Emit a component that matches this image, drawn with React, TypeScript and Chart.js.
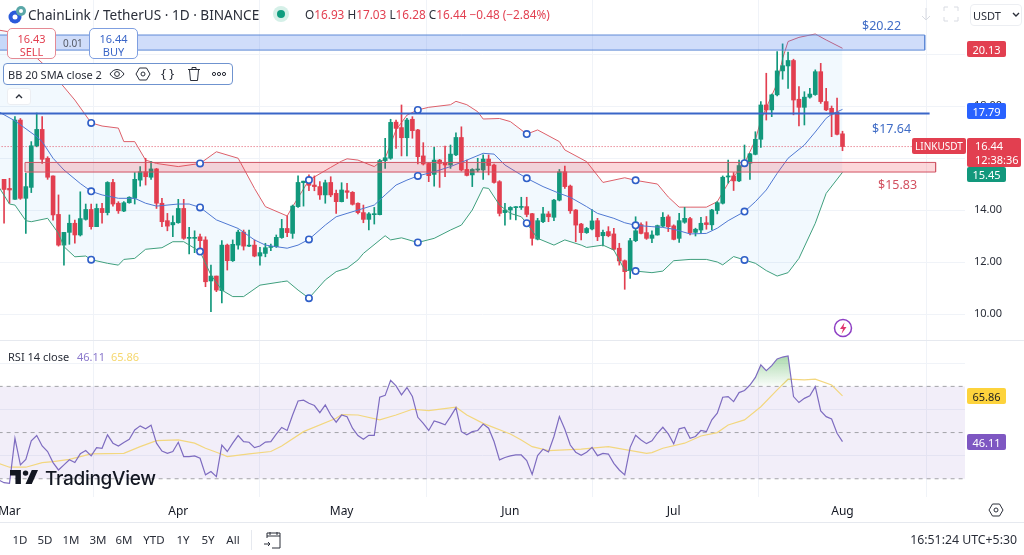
import React, { useEffect, useRef } from "react";
import { Chart, registerables } from "chart.js";

Chart.register(...registerables);

const FONT = '"Noto Sans", sans-serif';
const UP = "#12987c";
const DOWN = "#e23f50";

const firstCandleDay = -1;
const opens = [15.18,14.83,14.41,17.46,14.45,14.87,16.47,17.10,15.99,15.31,13.83,12.65,13.14,13.49,13.04,13.64,14.02,13.36,14.06,13.90,15.06,14.26,13.96,14.28,14.45,15.15,15.47,15.26,15.58,14.26,13.59,13.43,13.51,14.06,12.91,12.91,12.97,12.85,11.27,11.46,10.90,12.65,12.05,12.65,13.15,12.61,12.65,12.23,12.33,12.56,12.59,12.94,13.29,13.10,14.13,15.05,15.05,14.96,14.90,14.58,15.06,14.64,14.32,14.74,14.68,14.26,13.90,13.64,13.82,13.82,15.90,15.99,17.38,17.17,16.78,17.49,17.08,16.08,15.79,15.37,15.92,15.83,15.73,16.12,16.79,15.56,15.35,15.54,15.54,15.96,15.73,15.09,13.90,14.00,14.09,14.10,14.13,13.86,12.88,13.55,13.85,13.72,14.38,15.47,14.92,14.00,13.46,13.13,13.27,13.59,13.01,13.17,13.08,12.53,12.05,11.67,12.82,13.44,13.13,12.91,13.04,13.38,13.74,13.39,12.91,13.53,13.67,13.14,13.23,13.51,13.43,13.98,14.26,15.27,15.31,15.12,15.69,15.80,16.14,16.72,18.04,17.85,18.43,19.35,19.54,19.75,18.26,17.95,18.34,18.44,19.32,18.17,17.91,17.76,16.93];
const closes = [14.79,14.77,17.46,14.45,14.90,16.47,17.10,15.95,15.26,13.81,12.65,13.14,13.49,13.04,13.67,14.02,13.36,14.06,13.90,15.06,14.23,13.97,14.28,14.49,15.18,15.47,15.28,15.58,14.26,13.55,13.38,13.52,14.06,12.91,12.94,12.94,12.82,11.24,11.46,10.92,12.65,12.05,12.68,13.15,12.61,12.64,12.23,12.36,12.55,12.59,12.95,13.29,13.13,14.15,15.06,15.11,14.95,14.90,14.58,15.05,14.58,14.32,14.77,14.68,14.22,13.90,13.64,13.85,13.85,15.90,16.01,17.37,17.14,16.78,17.46,17.05,16.05,15.77,15.32,15.92,15.79,15.73,16.15,16.79,15.54,15.33,15.56,15.56,15.96,15.71,15.06,13.87,14.00,14.10,14.10,14.13,13.83,12.91,13.59,13.85,13.74,14.38,15.47,14.90,13.97,13.42,13.13,13.29,13.58,12.97,13.14,13.01,12.49,12.04,11.63,12.82,13.20,13.10,12.91,13.04,13.40,13.72,13.36,12.87,13.59,13.68,13.13,13.26,13.49,13.44,14.00,14.28,15.26,15.31,15.12,15.71,15.77,16.16,16.72,18.04,17.85,18.43,19.35,19.55,19.75,18.23,17.95,18.34,18.46,19.32,18.17,17.85,17.69,16.91,16.44];
const highs = [15.18,15.22,17.59,17.52,15.41,16.63,17.73,17.59,16.05,15.31,14.58,13.14,13.81,13.61,14.70,14.23,14.23,14.23,14.26,15.09,15.18,14.32,14.32,14.51,15.44,15.67,15.99,15.86,15.60,14.45,13.87,13.78,14.41,14.41,13.33,13.20,13.07,12.97,11.88,11.46,12.82,12.69,12.85,13.23,13.23,13.23,12.85,12.56,12.72,12.69,13.04,13.64,13.77,14.19,15.31,15.11,15.35,15.31,15.09,15.15,15.28,14.77,15.05,15.03,14.71,14.28,14.19,13.90,14.10,15.95,16.76,17.49,17.46,18.04,17.53,17.59,17.10,16.59,15.82,16.41,15.95,16.46,16.50,16.97,17.20,15.92,15.59,15.99,16.12,16.12,15.77,15.13,14.26,14.13,14.13,14.49,14.49,13.87,13.68,14.10,13.94,14.41,15.56,15.69,14.96,14.02,13.49,13.33,14.02,13.68,13.23,13.36,13.30,12.72,12.08,12.91,13.74,13.51,13.55,13.20,13.42,13.90,13.81,13.43,13.87,14.10,13.72,13.30,13.72,13.75,14.03,14.32,15.31,15.92,15.44,15.92,16.50,16.18,17.01,18.17,19.26,18.46,20.09,20.39,20.07,19.80,18.75,18.55,18.68,19.39,19.64,18.68,18.00,18.30,17.03];
const lows = [13.49,14.26,14.41,14.41,13.10,14.67,16.43,15.79,15.18,13.61,12.61,11.88,12.68,12.72,13.00,13.61,13.26,13.36,13.49,13.81,14.15,13.87,13.94,14.26,14.23,14.92,14.96,15.18,14.06,13.36,13.20,12.97,13.49,12.87,12.31,12.36,12.40,11.05,10.09,10.86,10.43,11.69,12.02,12.49,12.46,12.59,12.20,11.88,12.20,12.44,12.56,12.91,12.97,12.91,14.10,14.15,14.74,14.74,14.41,14.26,14.51,13.87,14.31,14.45,14.19,13.85,13.51,13.23,13.46,13.81,15.60,15.95,16.37,16.08,16.08,16.76,15.77,15.73,15.09,14.92,14.87,15.28,15.60,16.09,15.50,15.31,14.90,15.47,15.18,15.35,15.03,13.77,13.42,13.64,13.62,14.02,13.74,12.65,12.85,13.51,13.55,13.59,14.35,14.83,13.87,12.78,12.85,13.10,13.23,12.82,12.62,12.97,12.46,11.88,10.95,11.37,12.78,13.08,12.87,12.74,13.03,13.36,13.17,12.85,12.75,13.49,13.04,13.00,13.10,13.26,13.23,13.85,14.23,15.03,14.75,15.09,15.67,15.18,16.12,16.41,17.46,17.59,18.39,19.03,18.68,17.66,17.23,17.27,18.30,18.41,18.10,17.82,16.82,16.89,16.28];

const upperDays = [-2,0,2,5,7,10,12,15,17,20,21,23,25,27,31,35,38,42,45,47,51,52,55,59,61,62,64,67,69,71,73,75,77,81,82,84,86,87,90,92,95,97,101,102,106,109,113,115,119,121,123,125,128,130,132,135,137,138,141,142,143,145,148,150,153];
const upperValues = [20.92,20.85,20.62,19.85,19.46,18.73,18.23,17.35,17.23,17.15,16.63,16.63,15.92,15.79,15.67,15.79,16.24,15.99,14.83,14.13,13.77,14.13,15.15,15.64,15.88,15.97,15.92,15.67,15.99,17.08,17.65,17.85,17.95,18.05,18.18,18.05,17.78,17.50,17.52,17.40,16.92,17.08,16.63,16.31,15.86,15.06,15.24,15.14,15.00,14.50,14.11,14.11,14.11,14.32,15.03,15.80,16.69,17.46,18.87,19.83,20.48,20.64,20.77,20.54,20.22];
const basisDays = [-2,1,5,6,8,10,13,15,17,20,23,25,27,31,33,35,38,42,45,47,49,51,53,55,58,60,62,65,67,69,71,73,75,78,81,84,87,89,91,95,98,101,103,106,108,111,113,115,118,120,122,125,128,130,132,135,137,139,141,143,146,148,150,151,153];
const basisValues = [17.78,17.43,16.82,16.63,15.99,15.54,15.02,14.72,14.58,14.45,14.45,14.26,14.15,14.23,14.23,14.10,13.62,13.29,12.85,12.65,12.59,12.53,12.65,12.87,13.42,13.74,13.87,14.06,14.19,14.58,14.96,15.15,15.31,15.47,15.67,15.92,16.18,16.15,15.73,15.22,14.90,14.64,14.49,14.13,13.87,13.68,13.51,13.41,13.36,13.33,13.26,13.08,13.10,13.30,13.59,13.94,14.32,14.77,15.41,15.99,16.50,17.00,17.53,17.68,17.87];
const lowerDays = [-2,0,1,3,4,7,9,10,12,14,15,18,20,21,23,25,28,30,32,35,37,39,41,43,46,50,51,53,55,58,60,62,64,65,69,70,72,73,75,78,81,83,85,87,88,90,92,94,95,97,100,102,105,106,109,111,113,115,118,120,122,125,128,130,131,133,135,137,139,141,143,145,148,150,153];
const lowerValues = [14.90,14.23,14.19,13.59,13.55,13.68,13.10,12.59,12.20,12.23,12.09,11.95,11.88,12.10,12.14,12.49,12.55,12.78,12.78,12.40,11.50,10.92,10.67,10.67,11.11,11.24,11.27,10.92,10.61,11.31,11.63,11.76,12.08,12.33,13.01,12.85,12.93,12.87,12.75,12.91,13.23,13.42,14.00,14.86,14.83,14.19,13.87,13.74,13.49,12.91,12.65,12.85,12.65,12.56,12.65,12.46,11.69,11.65,11.59,11.65,12.05,12.10,12.10,12.00,11.89,12.21,12.08,11.95,11.67,11.46,11.59,12.14,13.49,14.64,15.45];
const bandHandleDays = [15,35,55,75,95,115,135];

const rsiFirstDay = -2;
const rsiValues = [29.5,28.3,28.0,47.5,36.0,38.4,46.4,48.7,44.2,41.8,37.0,33.8,36.0,38.2,37.0,40.8,42.2,39.9,43.5,43.2,49.0,45.4,44.2,45.7,47.1,51.1,52.9,51.6,53.2,45.4,42.0,41.0,41.8,45.8,39.6,39.6,39.9,38.9,31.7,33.1,30.9,44.6,41.8,45.4,48.7,46.1,45.8,43.5,44.2,45.9,46.1,49.3,52.2,50.9,57.6,63.7,64.0,62.7,61.7,58.6,62.0,57.6,54.5,57.6,56.9,51.9,48.7,47.1,48.8,48.8,65.3,66.1,72.6,70.2,66.3,69.5,65.6,56.6,54.0,50.9,55.0,54.3,53.4,56.9,60.8,50.4,49.0,50.4,50.9,53.7,51.9,46.1,38.2,39.2,39.9,40.3,40.3,37.9,31.9,40.0,42.8,41.6,48.3,56.9,51.4,44.6,41.5,40.2,41.5,43.6,40.0,41.0,40.7,36.7,33.8,31.7,43.6,48.8,46.8,45.2,46.4,49.7,52.3,49.4,45.1,51.6,52.2,47.5,48.3,50.9,50.4,55.5,58.4,65.3,65.6,63.4,67.3,68.2,70.6,73.9,79.3,76.8,79.0,81.9,82.7,83.2,65.6,63.0,64.8,65.9,69.9,59.4,56.9,55.9,49.7,46.11];
const rsiMaDays = [-2,0,3,6,8,11,15,21,24,27,31,34,36,39,40,44,48,50,54,60,61,64,68,71,74,77,82,84,87,92,94,96,99,105,110,117,118,120,124,127,130,132,135,138,141,143,146,148,151,153];
const rsiMaValues = [36.7,35.0,35.0,37.0,37.4,38.4,40.8,41.0,43.9,46.5,46.8,45.4,43.2,40.6,39.6,40.8,41.8,44.2,50.4,56.2,57.8,57.6,55.5,57.6,60.1,59.5,61.0,57.6,54.0,49.4,46.8,43.9,42.2,42.8,43.9,41.0,41.3,43.2,45.4,48.5,50.0,53.3,55.5,61.2,68.5,73.1,72.8,73.1,70.6,65.86];
const rsiLevels = [70, 50, 30];
const rsiBand = [70, 30];

const priceTicks = [10, 12, 14, 16, 18, 20];
const rsiTicks = [80, 60, 40];
const monthTicks = [0, 31, 61, 92, 122, 153];
const monthLabels = ["Mar", "Apr", "May", "Jun", "Jul", "Aug"];

const viewDays = [-1.745, 175.5];
const priceRange = [2.962, 22.077];
const rsiRange = [22.1, 237.3];

const blueZone = { from: -2, to: 168.1, top: 20.73, bottom: 20.15 };
const redZone = { from: 2.85, to: 170.1, top: 15.83, bottom: 15.46 };
const resistance = { from: -2, to: 169, price: 17.71 };
const lastPrice = 16.44;

const pairs = (days: number[], vals: number[]) => days.map((d, i) => ({ x: d, y: vals[i] }));
const allDays = opens.map((_, i) => firstCandleDay + i);
const candleColor = (i: number) => (closes[i] >= opens[i] ? UP : DOWN);
const noPad = (s: any) => { s.paddingLeft = 0; s.paddingRight = 0; s.paddingTop = 0; s.paddingBottom = 0; };

const T = ({ x, y, c = "#131722", s = 12, w, r, style, children }: any) => (
  <div style={{ position: "absolute", left: r === undefined ? x : undefined, right: r, top: y, transform: "translateY(-50%)", color: c, fontSize: s, fontWeight: w, whiteSpace: "nowrap", lineHeight: 1, ...style }}>{children}</div>
);
const Tag = ({ x, y, wd, h, bg, c = "#fff", s = 11, children }: any) => (
  <div style={{ position: "absolute", left: x, top: y, width: wd, height: h, background: bg, color: c, borderRadius: 2, fontSize: s, display: "flex", alignItems: "center", justifyContent: "center", lineHeight: 1 }}>{children}</div>
);
const Ico = ({ x, y, w = 16, h = 16, children, stroke = "#2a2e39" }: any) => (
  <svg style={{ position: "absolute", left: x, top: y }} width={w} height={h} viewBox={`0 0 ${w} ${h}`} fill="none" stroke={stroke} strokeWidth={1}>{children}</svg>
);

export default function App() {
  const ref = useRef<HTMLCanvasElement>(null);
  useEffect(() => {
    const canvas = ref.current!;
    const g = canvas.getContext("2d")!;
    const grad = g.createLinearGradient(0, 357, 0, 386);
    grad.addColorStop(0, "rgba(76,175,80,0.45)");
    grad.addColorStop(1, "rgba(76,175,80,0.03)");

    const zone = (z: any, col: string, fillCol: string, order: number) => [
      { type: "line", data: [{ x: z.from, y: z.bottom }, { x: z.from, y: z.top }, { x: z.to, y: z.top }, { x: z.to, y: z.bottom }], borderColor: col, borderWidth: 1, pointRadius: 0, fill: { value: z.bottom }, backgroundColor: fillCol, order, yAxisID: "y", xAxisID: "x" },
      { type: "line", data: [{ x: z.from, y: z.bottom }, { x: z.to, y: z.bottom }], borderColor: col, borderWidth: 1, pointRadius: 0, fill: false, order, yAxisID: "y", xAxisID: "x" },
    ];
    const handles = (days: number[], vals: number[]) => bandHandleDays.map((d) => ({ x: d, y: vals[days.indexOf(d)] }));

    const datasets: any[] = [
      { type: "line", data: [{ x: -2, y: rsiBand[0] }, { x: 176, y: rsiBand[0] }], yAxisID: "yRsi", borderWidth: 0, pointRadius: 0, fill: { value: rsiBand[1] }, backgroundColor: "rgba(126,87,194,0.1)", order: 100 },
      ...rsiLevels.map((v) => ({ type: "line", data: [{ x: -2, y: v }, { x: 176, y: v }], yAxisID: "yRsi", borderColor: "#a3a3a8", borderWidth: 1, borderDash: [4, 4], pointRadius: 0, fill: false, order: 95 })),
      { type: "line", data: pairs(rsiMaDays, rsiMaValues), yAxisID: "yRsi", borderColor: "#f3d77f", borderWidth: 1.2, pointRadius: 0, fill: false, order: 92 },
      { type: "line", data: rsiValues.map((v, i) => ({ x: rsiFirstDay + i, y: v })), yAxisID: "yRsi", borderColor: "#7e6cc0", borderWidth: 1.2, pointRadius: 0, fill: { target: { value: rsiBand[0] }, above: grad, below: "rgba(0,0,0,0)" }, order: 90 },
      { type: "line", data: pairs(upperDays, upperValues), yAxisID: "y", borderColor: "#dd5f69", borderWidth: 1, pointRadius: 0, fill: "+2", backgroundColor: "rgba(33,150,243,0.06)", order: 80 },
      { type: "line", data: pairs(basisDays, basisValues), yAxisID: "y", borderColor: "#4f78d2", borderWidth: 1, pointRadius: 0, fill: false, order: 60 },
      { type: "line", data: pairs(lowerDays, lowerValues), yAxisID: "y", borderColor: "#3f9f7d", borderWidth: 1, pointRadius: 0, fill: false, order: 60 },
      { type: "line", data: [{ x: -2, y: lastPrice }, { x: 176, y: lastPrice }], yAxisID: "y", borderColor: "#e0576a", borderWidth: 1, borderDash: [1, 2], pointRadius: 0, fill: false, order: 78 },
      { type: "bar", data: allDays.map((d, i) => ({ x: d, y: [lows[i], highs[i]] })), yAxisID: "y", barThickness: 1, backgroundColor: allDays.map((_, i) => candleColor(i)), order: 70 },
      { type: "bar", data: allDays.map((d, i) => ({ x: d, y: [opens[i], closes[i]] })), yAxisID: "y", barThickness: 4, minBarLength: 1, backgroundColor: allDays.map((_, i) => candleColor(i)), order: 68 },
      ...zone(blueZone, "#5f8ad6", "rgba(66,120,235,0.25)", 50),
      ...zone(redZone, "#cf5565", "rgba(242,54,69,0.2)", 50),
      { type: "line", data: [{ x: resistance.from, y: resistance.price }, { x: resistance.to, y: resistance.price }], yAxisID: "y", borderColor: "#3a66c8", borderWidth: 2, pointRadius: 0, fill: false, order: 48 },
      ...[handles(upperDays, upperValues), handles(basisDays, basisValues), handles(lowerDays, lowerValues)].map((d) => ({ type: "line", data: d, yAxisID: "y", showLine: false, pointRadius: 3.2, pointBorderWidth: 1.6, pointBackgroundColor: "#fff", pointBorderColor: "#2f5fc8", order: 10 })),
    ];

    const gridColor = "#f0f3f8";
    const chart = new Chart(canvas, {
      type: "bar",
      data: { datasets },
      options: {
        animation: false,
        responsive: false,
        events: [],
        layout: { padding: 0, autoPadding: false },
        plugins: { legend: { display: false }, tooltip: { enabled: false } },
        datasets: { bar: { grouped: false } },
        scales: {
          x: {
            type: "linear", position: "bottom", min: viewDays[0], max: viewDays[1], offset: false,
            afterBuildTicks: (s: any) => { s.ticks = monthTicks.map((value) => ({ value })); },
            afterFit: (s: any) => { s.height = 58; noPad(s); },
            grid: { color: gridColor, drawTicks: false }, border: { display: false },
            ticks: { autoSkip: false, maxRotation: 0, padding: 7, color: "#131722", font: { family: FONT, size: 12 }, callback: (v: any) => monthLabels[monthTicks.indexOf(v)] ?? "" },
          },
          yRsi: {
            type: "linear", position: "right", weight: 1, min: rsiRange[0], max: rsiRange[1],
            afterBuildTicks: (s: any) => { s.ticks = rsiTicks.map((value) => ({ value })); },
            afterFit: (s: any) => { s.width = 0; noPad(s); },
            grid: { color: gridColor, drawTicks: false }, border: { display: false },
            ticks: { padding: 9, color: "#2a2e39", font: { family: FONT, size: 11 }, callback: (v: any) => Number(v).toFixed(2) },
          },
          y: {
            type: "linear", position: "right", weight: 2, min: priceRange[0], max: priceRange[1],
            afterBuildTicks: (s: any) => { s.ticks = priceTicks.map((value) => ({ value })); },
            afterFit: (s: any) => { s.width = 59; noPad(s); },
            grid: { color: gridColor, drawTicks: false }, border: { display: false },
            ticks: { padding: 9, color: "#2a2e39", font: { family: FONT, size: 11 }, callback: (v: any) => Number(v).toFixed(2) },
          },
        },
      } as any,
    });
    return () => chart.destroy();
  }, []);

  const range = [["1D", 20], ["5D", 45], ["1M", 71], ["3M", 98], ["6M", 124], ["YTD", 154], ["1Y", 183], ["5Y", 208], ["All", 233]] as [string, number][];

  return (
    <div style={{ position: "fixed", left: 0, top: 0, width: 1024, height: 555, overflow: "hidden", background: "#fff", fontFamily: FONT }}>
      <canvas ref={ref} width={1024} height={555} style={{ display: "block", position: "absolute", left: 0, top: 0, width: 1024, height: 555 }} />
      <div style={{ position: "absolute", left: 0, top: 340, width: 1024, height: 1, background: "#e6e9ef" }} />
      <div style={{ position: "absolute", left: 0, top: 522, width: 1024, height: 1, background: "#e6e9ef" }} />

      <svg style={{ position: "absolute", left: 8, top: 5 }} width={18} height={19} viewBox="0 0 18 19">
        <circle cx="7" cy="12" r="6.5" fill="#2a5ada" />
        <circle cx="7" cy="12" r="2.5" fill="#fff" />
        <circle cx="13" cy="6" r="5" fill="#5aa7a8" />
        <circle cx="13" cy="6" r="2" fill="#fff" />
      </svg>
      <T x={28} y={15} s={13.6} c="#2a2e39">ChainLink / TetherUS · 1D · BINANCE</T>
      <div style={{ position: "absolute", left: 273, top: 6, width: 16, height: 16, borderRadius: 8, background: "#d5f0e8" }} />
      <div style={{ position: "absolute", left: 277, top: 10, width: 8, height: 8, borderRadius: 4, background: "#0f9d7f" }} />
      <T x={305} y={15} s={11.8} c="#2a2e39">O<span style={{ color: DOWN }}>16.93</span> H<span style={{ color: DOWN }}>17.03</span> L<span style={{ color: DOWN }}>16.28</span> C<span style={{ color: DOWN }}>16.44</span> <span style={{ color: DOWN }}>−0.48 (−2.84%)</span></T>

      <div style={{ position: "absolute", left: 7, top: 28, width: 49, height: 31, boxSizing: "border-box", background: "#fff", border: "1px solid #e58a94", borderRadius: 5, color: DOWN, textAlign: "center", fontSize: 11, lineHeight: "13px", paddingTop: 3 }}>16.43<br />SELL</div>
      <T x={63} y={43} s={10} c="#555a66">0.01</T>
      <div style={{ position: "absolute", left: 89, top: 28, width: 49, height: 31, boxSizing: "border-box", background: "#fff", border: "1px solid #7f9fe0", borderRadius: 5, color: "#3a66c8", textAlign: "center", fontSize: 11, lineHeight: "13px", paddingTop: 3 }}>16.44<br />BUY</div>

      <div style={{ position: "absolute", left: 3, top: 63, width: 230, height: 22, boxSizing: "border-box", background: "#fff", border: "1px solid #6f93cf", borderRadius: 4 }} />
      <T x={8} y={74} s={11} c="#2a2e39">BB 20 SMA close 2</T>
      <Ico x={109} y={66}><path d="M1 8c4-6 10-6 14 0-4 6-10 6-14 0z" /><circle cx="8" cy="8" r="2.4" /></Ico>
      <Ico x={135} y={66}><path d="M4.5 2h7L15 8l-3.5 6h-7L1 8z" /><circle cx="8" cy="8" r="2" /></Ico>
      <T x={161} y={73} s={13} c="#2a2e39">{"{ }"}</T>
      <Ico x={186} y={66}><path d="M2 3.500h12M6 3V1.500h4V3M3.500 4l1 10.500h7l1-10.500" /></Ico>
      <Ico x={211} y={66}><circle cx="3" cy="8" r="1.600" /><circle cx="8" cy="8" r="1.600" /><circle cx="13" cy="8" r="1.600" /></Ico>
      <div style={{ position: "absolute", left: 7, top: 88, width: 24, height: 17, boxSizing: "border-box", background: "#fff", border: "1px solid #eceef2", borderRadius: 3 }} />
      <Ico x={11} y={89} w={16} h={14}><path d="M5 9l3-3 3 3" strokeWidth={1.4} /></Ico>

      <T x={862} y={26} s={12.5} c="#3f6cc6">$20.22</T>
      <T x={872} y={129} s={12.5} c="#3f6cc6">$17.64</T>
      <T x={878} y={185} s={12.5} c="#d2505f">$15.83</T>

      <Ico x={918} y={6} stroke="#d8dbe2"><path d="M8 2v12M4 10l4 4 4-4" /></Ico>
      <Ico x={943} y={6} stroke="#d8dbe2"><path d="M1 5V1h4M11 1h4v4M15 11v4h-4M5 15H1v-4" /></Ico>
      <div style={{ position: "absolute", left: 970, top: 4, width: 52, height: 22, boxSizing: "border-box", border: "1px solid #eceef2", borderRadius: 4 }} />
      <T x={973} y={15} s={11} c="#2a2e39">USDT</T>
      <Ico x={1011} y={9} w={10} h={10}><path d="M2 4l3 3 3-3" strokeWidth={1.4} /></Ico>

      <Tag x={967} y={41} wd={39} h={16} bg={DOWN}>20.13</Tag>
      <Tag x={967} y={103} wd={39} h={16} bg="#2962ff">17.79</Tag>
      <Tag x={912} y={138} wd={54} h={16} bg={DOWN} s={10}>LINKUSDT</Tag>
      <div style={{ position: "absolute", left: 967, top: 138, width: 54, height: 29, background: DOWN, borderRadius: 2, color: "#fff", fontSize: 11, lineHeight: "13.5px", paddingTop: 1, boxSizing: "border-box", paddingLeft: 8 }}>16.44<br />12:38:36</div>
      <Tag x={967} y={167} wd={39} h={15} bg={UP}>15.45</Tag>
      <Tag x={967} y={388} wd={39} h={16} bg="#fdd33c" c="#222">65.86</Tag>
      <Tag x={967} y={434} wd={39} h={16} bg="#7e57c2">46.11</Tag>

      <svg style={{ position: "absolute", left: 833, top: 318 }} width={20} height={20} viewBox="0 0 20 20">
        <circle cx="10" cy="10" r="8.500" fill="#fff" stroke="#8e3fc4" strokeWidth="1.500" />
        <path d="M11.500 4.500 7 11h3l-1.500 5L13.500 9h-3z" fill="#e0366f" />
      </svg>

      <T x={8} y={355.5} s={11} c="#2a2e39">RSI 14 close</T>
      <T x={77} y={355.5} s={11} c="#8a78cc">46.11</T>
      <T x={111} y={355.5} s={11} c="#f5d76e">65.86</T>

      <svg style={{ position: "absolute", left: 10, top: 470 }} width={28} height={14} viewBox="0 0 36 18" fill="#131722">
        <path d="M14 0H0v7h7v11h7zM28 18h-8L28 0h8z" />
        <circle cx="20" cy="4" r="3.500" />
      </svg>
      <T x={45} y={478} s={19} w={500} c="#131722" style={{ fontFamily: "Inter, sans-serif", letterSpacing: -0.3 }}>TradingView</T>

      {range.map(([t, x]) => (
        <div key={t} style={{ position: "absolute", left: x - 20, width: 40, top: 534, textAlign: "center", fontSize: 11.5, lineHeight: 1, color: "#2a2e39" }}>{t}</div>
      ))}
      <div style={{ position: "absolute", left: 251, top: 530, width: 1, height: 20, background: "#e6e9ef" }} />
      <Ico x={263} y={531} w={18} h={18}><path d="M4 7V2h13v15H9M4 5h13M7 1v3M14 1v3M1 13h6M5 11l2 2-2 2" /></Ico>
      <T r={7} y={540} s={12.3} c="#2a2e39">16:51:24 UTC+5:30</T>
      <Ico x={988} y={502}><path d="M4.500 2h7L15 8l-3.500 6h-7L1 8z" /><circle cx="8" cy="8" r="2" /></Ico>
    </div>
  );
}
